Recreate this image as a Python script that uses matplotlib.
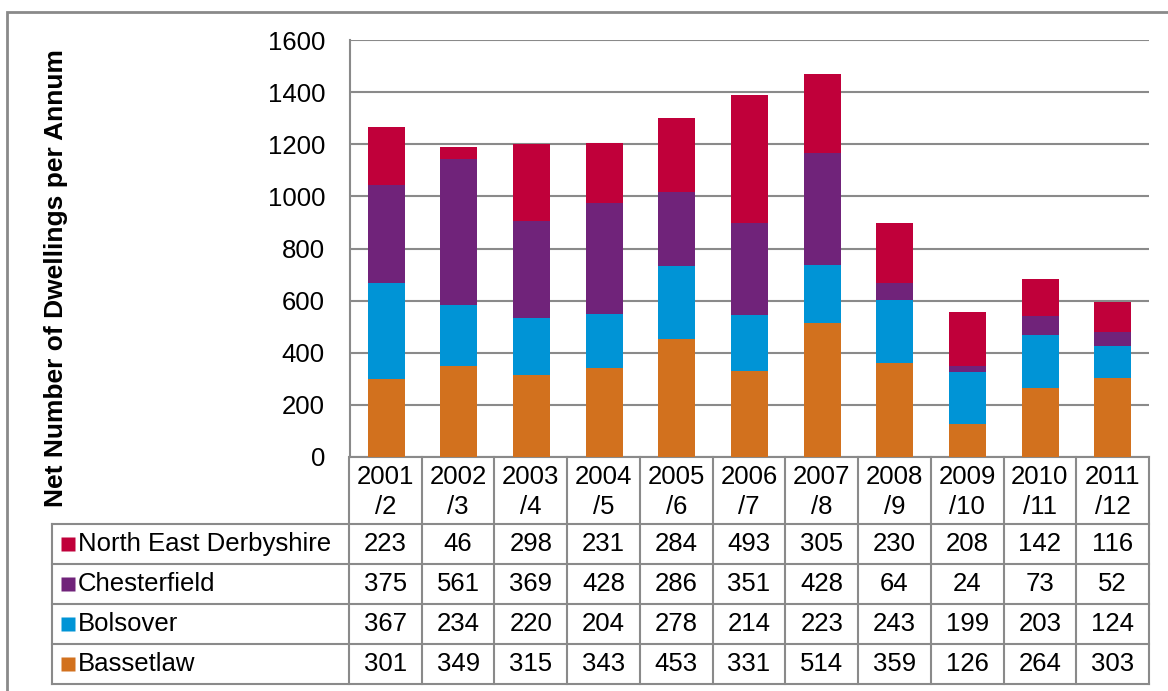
import numpy as np
import matplotlib.pyplot as plt
from matplotlib.patches import Rectangle

years = ["2001\n/2", "2002\n/3", "2003\n/4", "2004\n/5", "2005\n/6", "2006\n/7",
         "2007\n/8", "2008\n/9", "2009\n/10", "2010\n/11", "2011\n/12"]
ne_derbyshire = [223, 46, 298, 231, 284, 493, 305, 230, 208, 142, 116]
chesterfield = [375, 561, 369, 428, 286, 351, 428, 64, 24, 73, 52]
bolsover = [367, 234, 220, 204, 278, 214, 223, 243, 199, 203, 124]
bassetlaw = [301, 349, 315, 343, 453, 331, 514, 359, 126, 264, 303]

# stacking order bottom -> top
series = [("Bassetlaw", bassetlaw, "#D2711E"),
          ("Bolsover", bolsover, "#0094D6"),
          ("Chesterfield", chesterfield, "#70237A"),
          ("North East Derbyshire", ne_derbyshire, "#C0003A")]

plt.rcParams['font.family'] = ['Liberation Sans', 'DejaVu Sans']
W, H = 1168, 691
fs = 18.5
fig = plt.figure(figsize=(W / 100, H / 100), dpi=100)
grey = "#8a8a8a"

# outer frame
fig.patches.append(Rectangle((7 / W, -0.01), 1.1, (H - 12) / H + 0.01,
                             transform=fig.transFigure, fill=False,
                             edgecolor=grey, lw=2))

ax = fig.add_axes([350 / W, (H - 457) / H, 799 / W, 417 / H])
x = np.arange(len(years))
bottom = np.zeros(len(years))
for name, vals, col in series:
    ax.bar(x, vals, 0.51, bottom=bottom, color=col, zorder=3)
    bottom += np.array(vals)

ax.set_xlim(-0.5, 10.5)
ax.set_ylim(0, 1600)
ax.set_yticks(range(0, 1601, 200))
ax.set_xticks([])
ax.grid(axis='y', color=grey, lw=1.5, zorder=0)
ax.tick_params(axis='y', length=0, pad=18, labelsize=fs)
for s in ["top", "right"]:
    ax.spines[s].set_visible(False)
for s in ["left", "bottom"]:
    ax.spines[s].set_color(grey)
    ax.spines[s].set_linewidth(1.5)

fig.text(56 / W, (H - 278) / H, "Net Number of Dwellings per Annum",
         rotation=90, ha='center', va='center', fontsize=19, fontweight='bold')

# data table below the chart
colw = 800 / 11
lab_w = (349 - 52) / colw
tax = fig.add_axes([52 / W, (H - 684) / H, (1149 - 52) / W, 227 / H])
tax.set_xlim(-0.5 - lab_w, 10.5)
tax.set_ylim(0, 227)
tax.axis('off')
x0 = -0.5 - lab_w
for yy in [0, 40, 80, 120, 160]:
    tax.plot([x0, 10.5], [yy, yy], color=grey, lw=1.5, clip_on=False)
tax.plot([x0, x0], [0, 160], color=grey, lw=1.5, clip_on=False)
for k in range(12):
    tax.plot([k - 0.5, k - 0.5], [0, 227], color=grey, lw=1.5, clip_on=False)

for i, yr in enumerate(years):
    tax.text(i, 192, yr, ha='center', va='center', fontsize=fs, linespacing=1.35)

for r, (name, vals, col) in enumerate(reversed(series)):
    yc = 140 - 40 * r
    tax.plot(x0 + 15.5 / colw, yc, marker='s', ms=9.5, color=col, mec='none')
    tax.text(x0 + 26 / colw, yc, name, ha='left', va='center', fontsize=fs)
    for i, v in enumerate(vals):
        tax.text(i, yc, str(v), ha='center', va='center', fontsize=fs)

fig.savefig("out.png", dpi=100)
